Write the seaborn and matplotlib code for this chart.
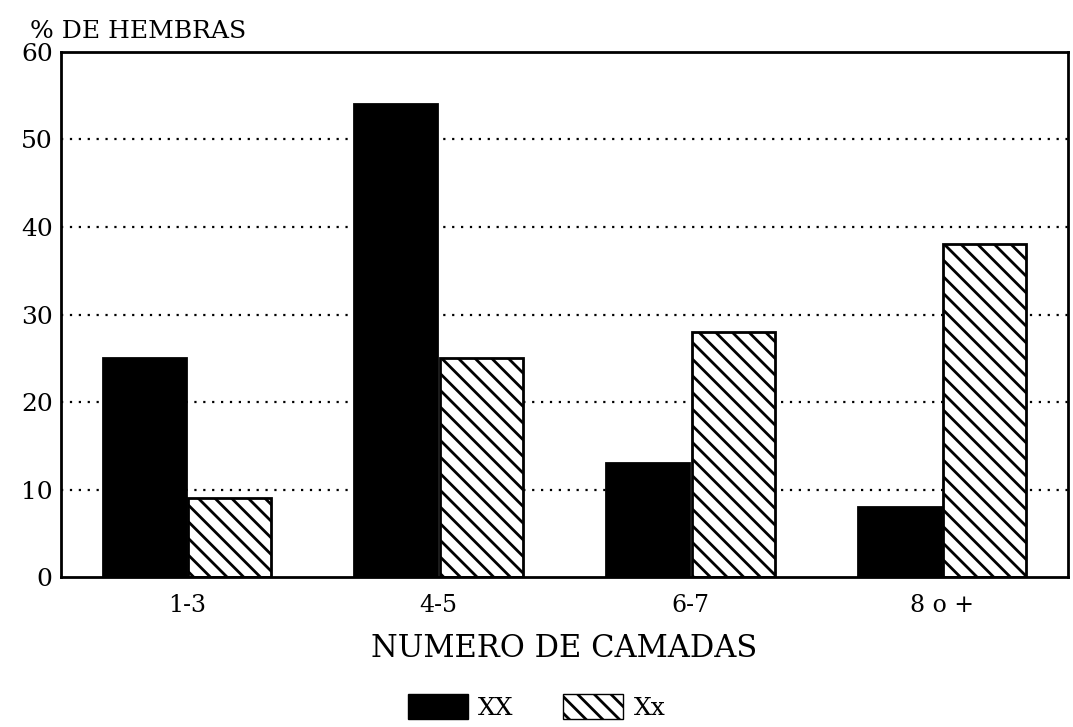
import matplotlib
matplotlib.use("Agg")
import matplotlib.pyplot as plt
import pandas as pd
import seaborn as sns
from matplotlib.patches import Patch

# data
categorias = ["1-3", "4-5", "6-7", "8 o +"]
grupos = ["XX", "Xx"]
valores_XX = [25, 54, 13, 8]
valores_Xx = [9, 25, 28, 38]

df = pd.DataFrame({
    "camadas": categorias * 2,
    "grupo": [grupos[0]] * 4 + [grupos[1]] * 4,
    "pct": valores_XX + valores_Xx,
})

sns.set_theme(style="white")
plt.rcParams["font.family"] = ["DejaVu Serif"]
plt.rcParams["hatch.linewidth"] = 2.0
for k in ["text.color", "axes.labelcolor", "xtick.color", "ytick.color"]:
    plt.rcParams[k] = "black"

fig = plt.figure(figsize=(10.73, 7.27), dpi=100)
ax = fig.add_axes([0.0569, 0.2063, 0.9384, 0.7222])

sns.barplot(data=df, x="camadas", y="pct", hue="grupo", order=categorias,
            hue_order=grupos, palette=["black", "white"], width=0.68, gap=0.03,
            edgecolor="black", linewidth=2, saturation=1, legend=False, ax=ax)

# hatch the Xx bars
for bar in ax.containers[1]:
    bar.set_hatch("\\\\")

ax.set_xlim(-0.5, 3.5)
ax.set_ylim(0, 60)
ax.set_yticks(range(0, 61, 10))
for y in range(10, 60, 10):
    ax.axhline(y, color="black", linestyle=(0, (1, 3)), linewidth=1.6, zorder=0)

for s in ax.spines.values():
    s.set_color("black")
    s.set_linewidth(2)

ax.tick_params(axis="y", direction="in", length=8, width=2, labelsize=18, pad=6)
ax.tick_params(axis="x", length=0, labelsize=17, pad=12)
ax.set_xlabel("NUMERO DE CAMADAS", fontsize=22, labelpad=12)
ax.set_ylabel("")
fig.text(0.028, 0.957, "% DE HEMBRAS", fontsize=18, ha="left", va="center")

handles = [Patch(facecolor="black", edgecolor="black", label="XX"),
           Patch(facecolor="white", edgecolor="black", hatch="\\\\", label="Xx")]
fig.legend(handles=handles, loc="center", bbox_to_anchor=(0.50, 0.028), ncol=2,
           frameon=False, fontsize=18, handlelength=2.4, handleheight=1.2,
           handletextpad=0.4, columnspacing=2.0)

fig.savefig("out.png", dpi=100)
